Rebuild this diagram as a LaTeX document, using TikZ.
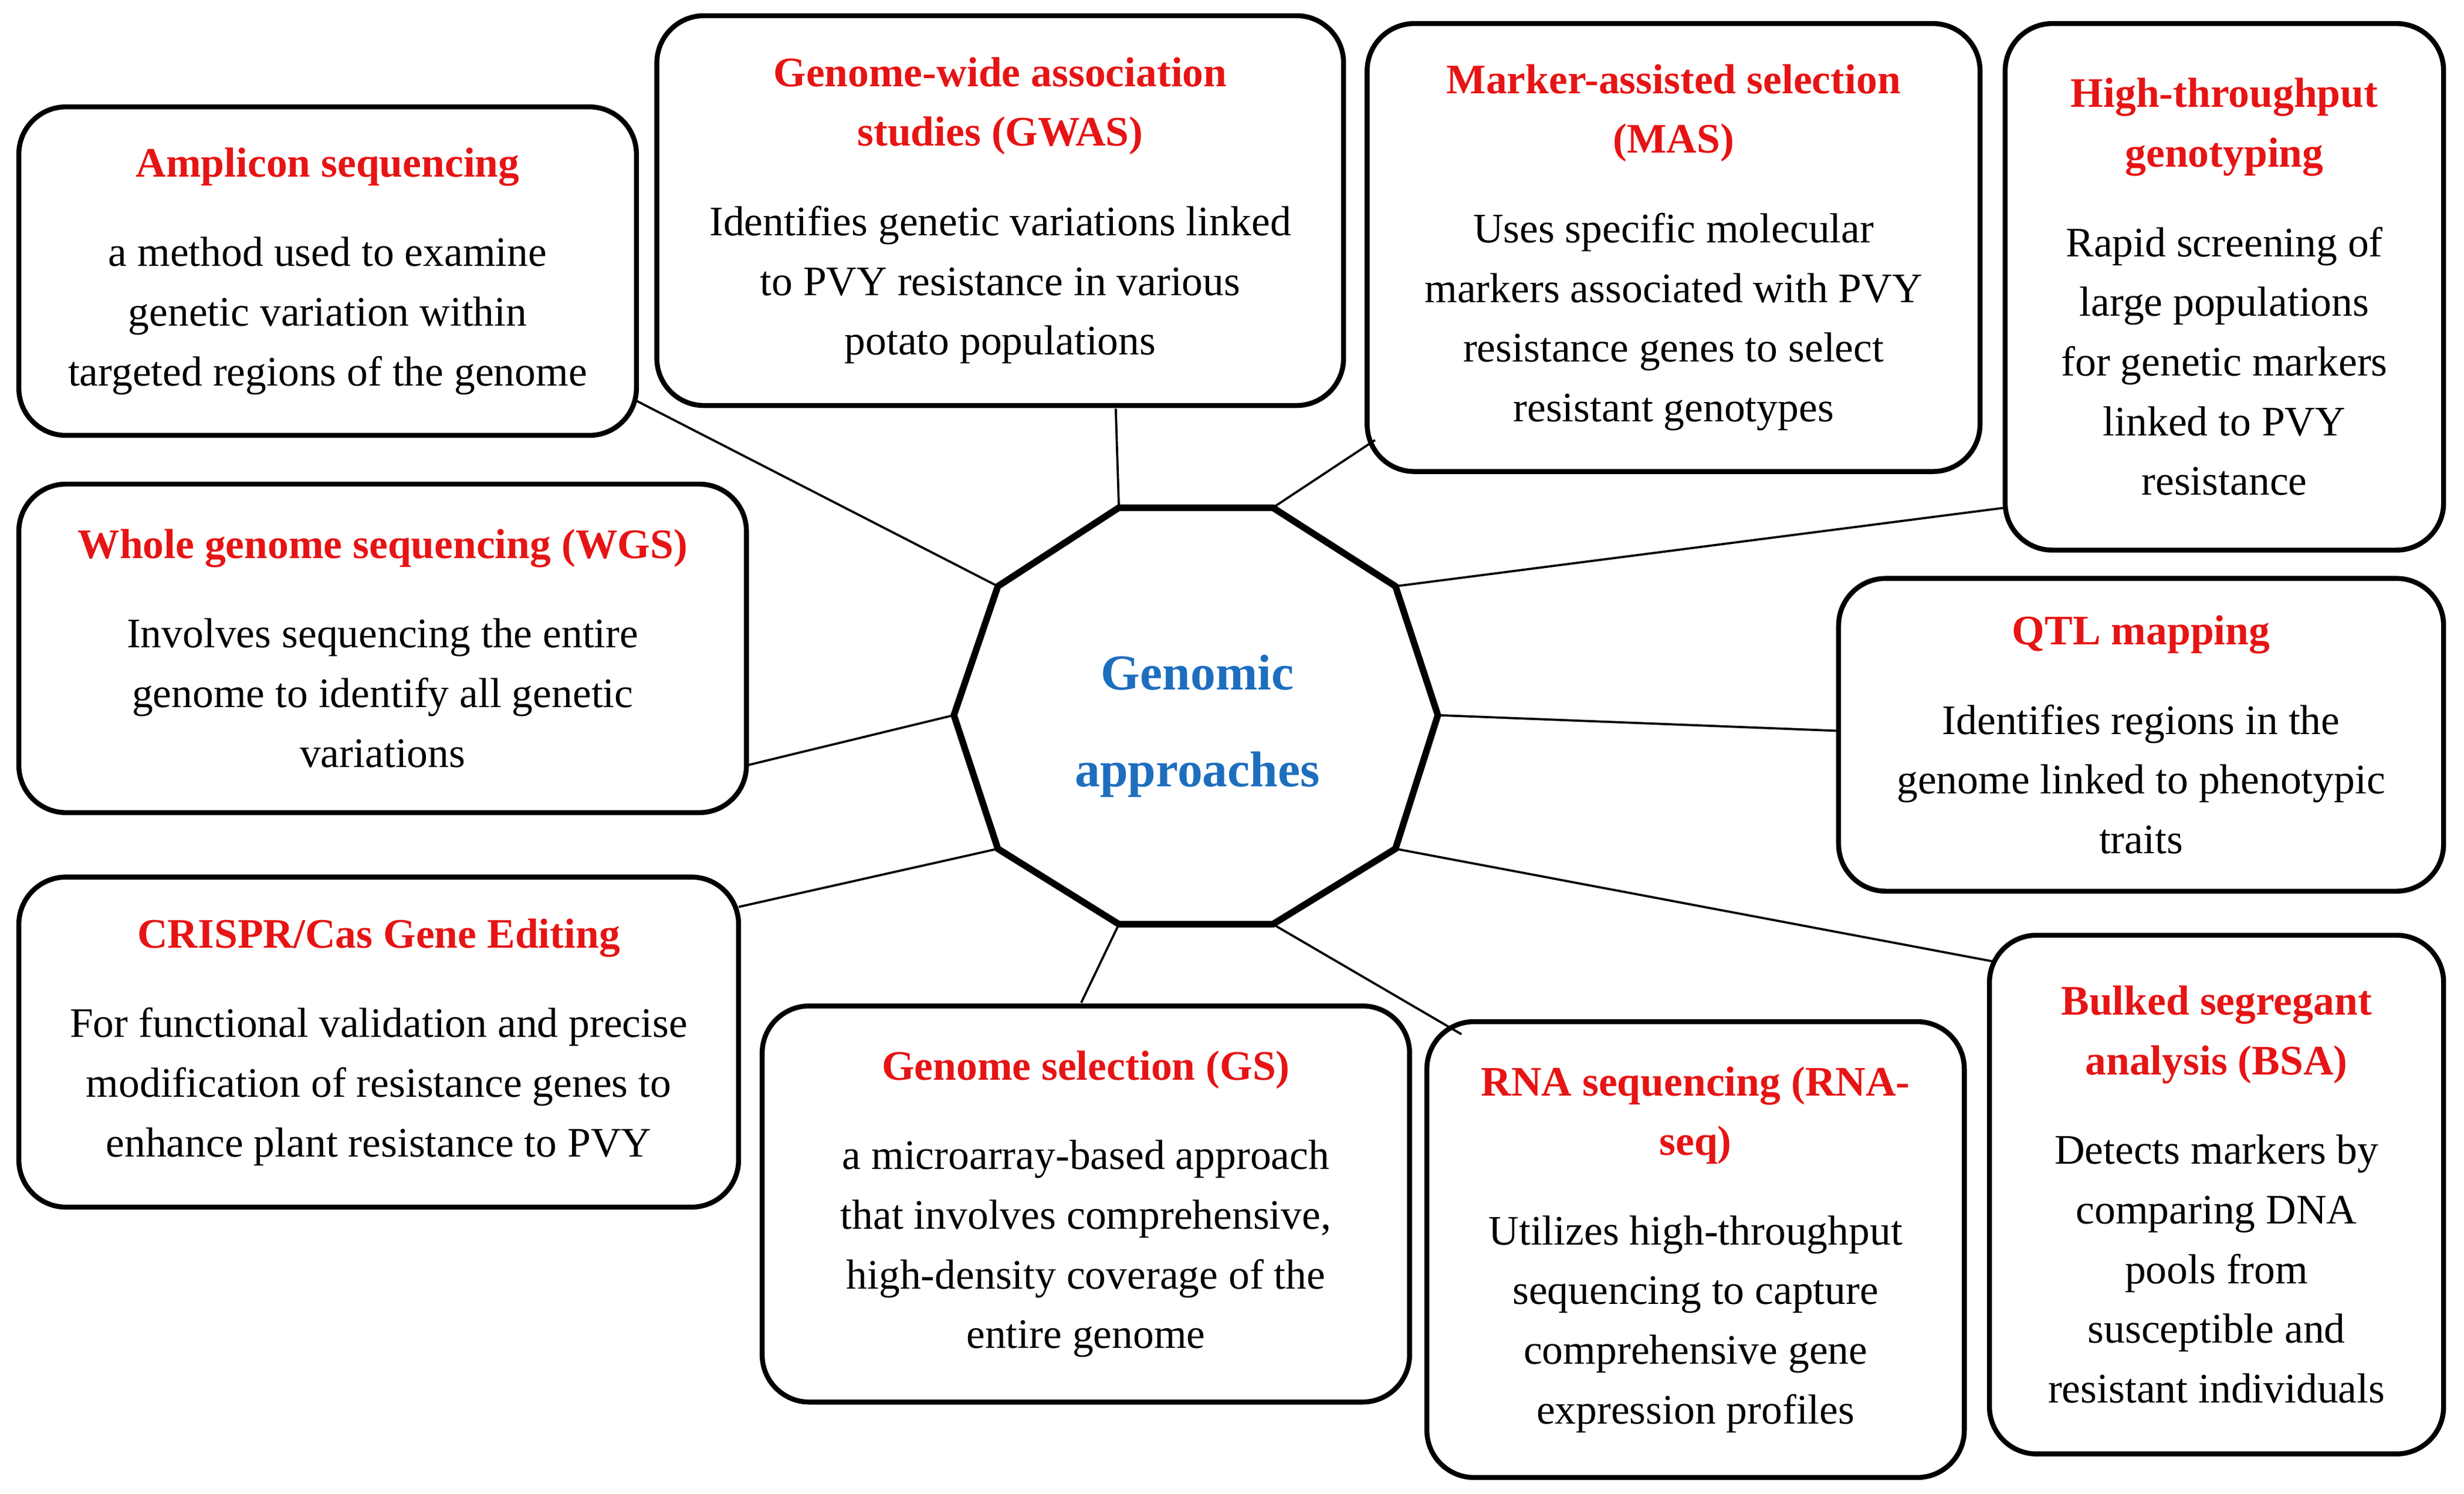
\documentclass[tikz,border=0pt]{standalone}
\usepackage{fontspec}
\setmainfont{Liberation Serif}
\definecolor{titlered}{RGB}{230,20,20}
\definecolor{hubblue}{RGB}{30,110,190}
\newcommand\tl[1]{\textcolor{titlered}{\textbf{#1}}}
\tikzset{
  box/.style={draw,rounded corners=0.3cm,line width=0.9pt,align=center,
    inner sep=0pt,font=\fontsize{7.6}{10.8}\selectfont},
  link/.style={line width=0.4pt}
}
\begin{document}
\begin{tikzpicture}
\useasboundingbox (0,0) rectangle (15.68,-9.505);

% hub
\coordinate (v1) at (7.12,-3.23);  \coordinate (v2) at (8.10,-3.23);
\coordinate (v3) at (8.88,-3.73);  \coordinate (v4) at (9.15,-4.55);
\coordinate (v5) at (8.88,-5.40);  \coordinate (v6) at (8.10,-5.88);
\coordinate (v7) at (7.12,-5.88);  \coordinate (v8) at (6.35,-5.40);
\coordinate (v9) at (6.07,-4.55);  \coordinate (v10) at (6.35,-3.73);
\draw[line width=1.2pt] (v1)--(v2)--(v3)--(v4)--(v5)--(v6)--(v7)--(v8)--(v9)--(v10)--cycle;
\node[align=center,text=hubblue,font=\fontsize{9.1}{17.5}\selectfont\bfseries] (hub) at (7.62,-4.62) {Genomic\\approaches};

% boxes
\node[box,minimum width=3.93cm,minimum height=2.09cm] (amp) at (2.085,-1.725)
  {\tl{Amplicon sequencing}\\[0.19cm]a method used to examine\\genetic variation within\\targeted regions of the genome};
\node[box,minimum width=4.37cm,minimum height=2.48cm] (gwas) at (6.365,-1.34)
  {\tl{Genome-wide association}\\\tl{studies (GWAS)}\\[0.19cm]Identifies genetic variations linked\\to PVY resistance in various\\potato populations};
\node[box,minimum width=3.9cm,minimum height=2.85cm] (mas) at (10.65,-1.575)
  {\tl{Marker-assisted selection}\\\tl{(MAS)}\\[0.19cm]Uses specific molecular\\markers associated with PVY\\resistance genes to select\\resistant genotypes};
\node[box,minimum width=2.79cm,minimum height=3.35cm] (htg) at (14.155,-1.825)
  {\tl{High-throughput}\\\tl{genotyping}\\[0.19cm]Rapid screening of\\large populations\\for genetic markers\\linked to PVY\\resistance};
\node[box,minimum width=4.63cm,minimum height=2.09cm] (wgs) at (2.435,-4.125)
  {\tl{Whole genome sequencing (WGS)}\\[0.19cm]Involves sequencing the entire\\genome to identify all genetic\\variations};
\node[box,minimum width=3.85cm,minimum height=1.99cm] (qtl) at (13.625,-4.675)
  {\tl{QTL mapping}\\[0.19cm]Identifies regions in the\\genome linked to phenotypic\\traits};
\node[box,minimum width=4.58cm,minimum height=2.1cm] (crispr) at (2.41,-6.63)
  {\tl{CRISPR/Cas Gene Editing}\\[0.19cm]For functional validation and precise\\modification of resistance genes to\\enhance plant resistance to PVY};
\node[box,minimum width=4.12cm,minimum height=2.52cm] (gs) at (6.91,-7.66)
  {\tl{Genome selection (GS)}\\[0.19cm]a microarray-based approach\\that involves comprehensive,\\high-density coverage of the\\entire genome};
\node[box,minimum width=3.42cm,minimum height=2.9cm] (rna) at (10.79,-7.95)
  {\tl{RNA sequencing (RNA-}\\\tl{seq)}\\[0.19cm]Utilizes high-throughput\\sequencing to capture\\comprehensive gene\\expression profiles};
\node[box,minimum width=2.89cm,minimum height=3.3cm] (bsa) at (14.105,-7.6)
  {\tl{Bulked segregant}\\\tl{analysis (BSA)}\\[0.19cm]Detects markers by\\comparing DNA\\pools from\\susceptible and\\resistant individuals};

% link ends on the boxes
\coordinate (eamp) at (4.05,-2.55);    \coordinate (egwas) at (7.10,-2.60);
\coordinate (emas) at (8.75,-2.80);    \coordinate (ehtg) at (12.76,-3.23);
\coordinate (ewgs) at (4.75,-4.87);    \coordinate (eqtl) at (11.70,-4.65);
\coordinate (ecrispr) at (4.70,-5.77); \coordinate (egs) at (6.88,-6.38);
\coordinate (erna) at (9.30,-6.58);    \coordinate (ebsa) at (12.70,-6.12);

\draw[link] (eamp)--(v10) (egwas)--(v1) (emas)--(v2) (ehtg)--(v3)
  (ewgs)--(v9) (eqtl)--(v4) (ecrispr)--(v8) (egs)--(v7) (erna)--(v6) (ebsa)--(v5);
\end{tikzpicture}
\end{document}
